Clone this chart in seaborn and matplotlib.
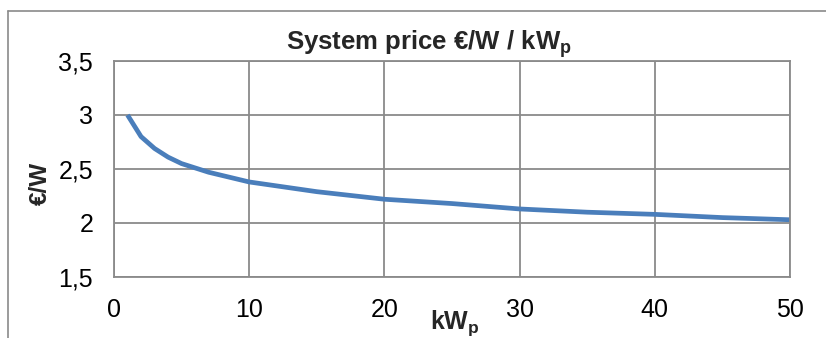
import matplotlib
matplotlib.use("Agg")
import matplotlib.pyplot as plt
from matplotlib.lines import Line2D
import seaborn as sns
import pandas as pd

# System size in kWp and the corresponding price in €/W
kwp = [1, 2, 3, 4, 5, 6, 7, 8, 9, 10, 15, 20, 25, 30, 35, 40, 45, 50]
price = [3.00, 2.80, 2.69, 2.61, 2.55, 2.51, 2.47, 2.44, 2.41, 2.38,
         2.29, 2.22, 2.18, 2.13, 2.10, 2.08, 2.05, 2.03]

x_ticks = [0, 10, 20, 30, 40, 50]
y_ticks = [1.5, 2.0, 2.5, 3.0, 3.5]
y_tick_labels = ["1,5", "2", "2,5", "3", "3,5"]

sns.set_style("white")
plt.rcParams["font.family"] = ["Liberation Sans", "DejaVu Sans"]
plt.rcParams["mathtext.fontset"] = "custom"
plt.rcParams["mathtext.rm"] = "Liberation Sans"
plt.rcParams["mathtext.bf"] = "Liberation Sans:bold"

df = pd.DataFrame({"kWp": kwp, "price": price})

fig = plt.figure(figsize=(8.26, 3.38), dpi=100)
ax = fig.add_axes([114 / 826, 1 - 277 / 338, (790 - 114) / 826, (277 - 61) / 338])

grid_color = "#8a8a8a"
sns.lineplot(data=df, x="kWp", y="price", ax=ax, color="#4a7ebb",
             linewidth=3.4, solid_capstyle="butt", solid_joinstyle="round")

ax.set_xlim(0, 50)
ax.set_ylim(1.5, 3.5)
ax.set_xticks(x_ticks)
ax.set_yticks(y_ticks)
ax.set_yticklabels(y_tick_labels)
ax.grid(True, color=grid_color, linewidth=1.3)
ax.set_axisbelow(True)
for s in ax.spines.values():
    s.set_color(grid_color)
    s.set_linewidth(1.3)
ax.tick_params(axis="both", length=0, labelsize=18, colors="black")
ax.tick_params(axis="x", pad=15)
ax.tick_params(axis="y", pad=15)
ax.set_xlabel("")
ax.set_ylabel("")

fig.text(429 / 826, 1 - 50 / 338, r"System price €/W / kW$_\mathbf{p}$",
         ha="center", va="baseline", fontsize=18.5, fontweight="bold")
fig.text(455 / 826, 1 - 329 / 338, r"kW$_\mathbf{p}$",
         ha="center", va="baseline", fontsize=18, fontweight="bold")
fig.text(40 / 826, 1 - 183 / 338, "€/W", rotation=90,
         ha="center", va="center", fontsize=17.5, fontweight="bold")

# outer chart-area border (top and left edges)
fig.add_artist(Line2D([8 / 826, 8 / 826], [0, 1 - 11 / 338],
                      transform=fig.transFigure, color=grid_color, linewidth=1.2))
fig.add_artist(Line2D([8 / 826, 1], [1 - 11 / 338, 1 - 11 / 338],
                      transform=fig.transFigure, color=grid_color, linewidth=1.2))

fig.savefig("out.png", dpi=100)
